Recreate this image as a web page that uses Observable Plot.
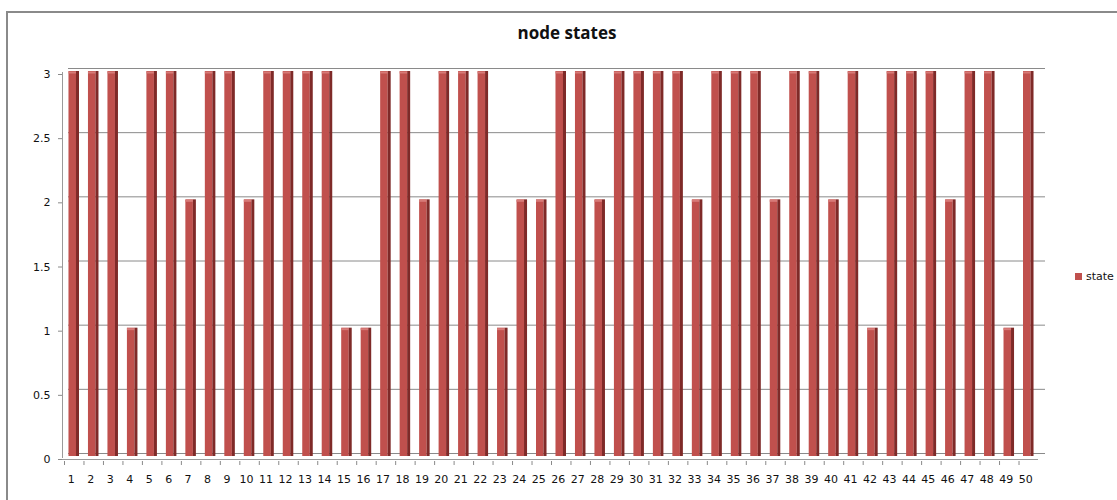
<!DOCTYPE html>
<html>
<head>
<meta charset="utf-8">
<script src="https://cdn.jsdelivr.net/npm/d3@7"></script>
<script src="https://cdn.jsdelivr.net/npm/@observablehq/plot@0.6"></script>
<style>
  html, body { margin: 0; padding: 0; background: #fff; }
  #wrap { position: relative; width: 1117px; height: 500px; overflow: hidden; background: #fff; font-family: "DejaVu Sans", sans-serif; }
  #border { position: absolute; left: 6px; top: 11px; right: -4px; bottom: -4px; border-top: 2px solid #8a8a8a; border-left: 2px solid #8a8a8a; }
  #title { position: absolute; left: 0; width: 1134px; top: 21px; text-align: center; font-family: "Open Sans", sans-serif; font-weight: 700; font-size: 17px; color: #111; }
  #legend { position: absolute; left: 1075px; top: 270px; font-size: 11px; color: #111; display: flex; align-items: center; }
  #legend span.sw { display: inline-block; width: 7px; height: 7px; background: #c0504d; margin-right: 4px; }
  #chart { position: absolute; left: 0; top: 0; }
  #chart svg { max-width: none !important; }
</style>
</head>
<body>
<div id="wrap">
  <div id="border"></div>
  <div id="title">node states</div>
  <div id="chart"></div>
  <div id="legend"><span class="sw"></span>state</div>
</div>
<script>
const nodes = d3.range(1, 51);
const states = [3,3,3,1,3,3,2,3,3,2, 3,3,3,3,1,1,3,3,2,3, 3,3,1,2,2,3,3,2,3,3, 3,3,2,3,3,3,2,3,3,2, 3,1,3,3,3,2,3,3,1,3];
const yTicks = [0, 0.5, 1, 1.5, 2, 2.5, 3];
const seriesName = "state";

const data = nodes.map((n, i) => ({node: n, state: states[i]}));
const mL = 64, mR = 79;
const step = (1117 - mL - mR) / 50;

const plot = Plot.plot({
  width: 1117,
  height: 500,
  marginTop: 71,
  marginBottom: 44,
  marginLeft: mL,
  marginRight: mR,
  style: {background: "transparent", fontFamily: "DejaVu Sans, sans-serif", fontSize: "11px", color: "#111"},
  x: {type: "band", domain: nodes, paddingInner: 0.46, paddingOuter: 0.23, align: 0.5, round: false, label: null},
  y: {domain: [0, 3], label: null},
  marks: [
    Plot.ruleY(yTicks, {stroke: "#8a8a8a", strokeWidth: 1, dy: -3, insetLeft: 4, insetRight: -7}),
    Plot.ruleY([0], {stroke: "#9a9a9a", strokeWidth: 1, dy: 3, insetLeft: -2}),
    Plot.frame({anchor: "left", stroke: "#9a9a9a", dx: -2, dy: 1}),
    Plot.barY(data, {x: "node", y: "state", fill: "#c0504d", insetRight: 3}),
    Plot.barY(data, {x: "node", y: "state", fill: "#7f2a28", insetLeft: 7.5}),
    Plot.tickY(data, {x: "node", y: "state", stroke: "#d77a77", strokeWidth: 2, insetRight: 3, dy: 1}),
    Plot.axisY({ticks: yTicks, tickFormat: d => String(d), tickSize: 4, tickPadding: 8, dy: 3, dx: -2, stroke: "#8a8a8a", fill: "#111", fontSize: 11, label: null}),
    Plot.axisX({tickSize: 4, text: null, dx: -step / 2, dy: 5, stroke: "#8a8a8a", label: null}),
    Plot.axisX({tickSize: 0, tickPadding: 19, dx: -3, fill: "#111", fontSize: 11, label: null})
  ]
});
document.getElementById("chart").appendChild(plot);
</script>
</body>
</html>
